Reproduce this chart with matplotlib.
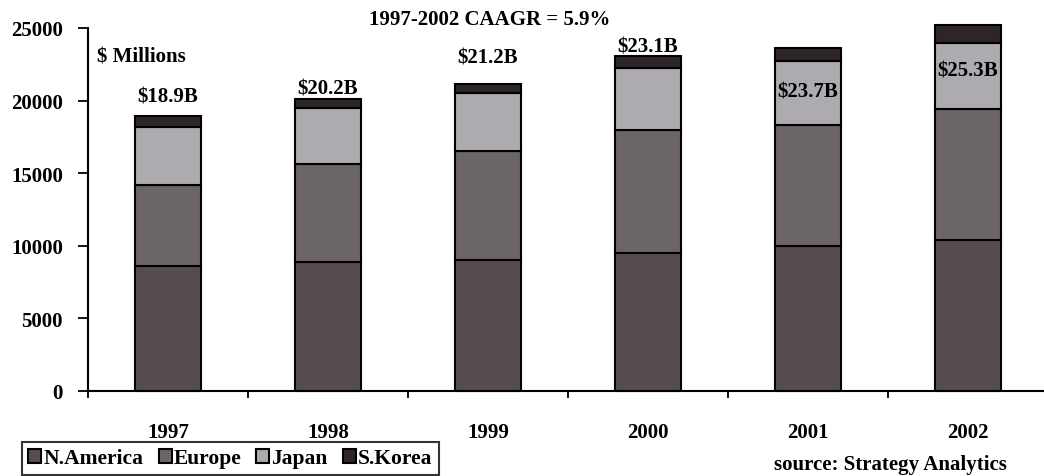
import matplotlib
matplotlib.use("Agg")
import matplotlib.pyplot as plt
import numpy as np

years = ["1997", "1998", "1999", "2000", "2001", "2002"]
series = ["N.America", "Europe", "Japan", "S.Korea"]
n_america = [8600, 8900, 9000, 9500, 10000, 10400]
europe = [5600, 6750, 7550, 8500, 8300, 9000]
japan = [4000, 3850, 3950, 4250, 4450, 4600]
s_korea = [750, 600, 650, 800, 900, 1200]
totals_text = ["$18.9B", "$20.2B", "$21.2B", "$23.1B", "$23.7B", "$25.3B"]
label_y = [20300, 20800, 23000, 23750, 20600, 22100]
colors = ["#574c4f", "#6b6567", "#adabaf", "#2d2527"]

plt.rcParams['font.family'] = ['Liberation Serif', 'DejaVu Serif']
plt.rcParams['font.weight'] = 'bold'

fig = plt.figure(figsize=(10.44, 4.77), dpi=100)
ax = fig.add_axes([88/1044, 1-392/477, 960/1044, (392-29)/477])

x = np.arange(len(years))
bottom = np.zeros(len(years))
handles = []
for vals, name, c in zip([n_america, europe, japan, s_korea], series, colors):
    b = ax.bar(x, vals, width=0.41, bottom=bottom, color=c, edgecolor="black",
               linewidth=1.5, label=name, clip_on=False)
    handles.append(b)
    bottom += np.array(vals)

for xi, t, ly in zip(x, totals_text, label_y):
    ax.text(xi, ly, t, ha="center", va="center", fontsize=15, fontweight="bold")

ax.set_xlim(-0.5, 5.5)
ax.set_ylim(0, 25000)
ax.set_yticks([0, 5000, 10000, 15000, 20000, 25000])
ax.set_yticklabels(["0", "5000", "10000", "15000", "20000", "25000"])
ax.set_xticks(x)
ax.set_xticklabels(years)
ax.set_xticks(np.arange(-0.5, 5.6, 1.0), minor=True)
ax.tick_params(axis="x", which="major", length=0, pad=22, labelsize=15)
ax.tick_params(axis="x", which="minor", length=5, width=1.3, direction="out")
ax.tick_params(axis="y", length=7, width=1.3, direction="out", labelsize=15, pad=11)
for lbl in ax.get_xticklabels() + ax.get_yticklabels():
    lbl.set_fontweight("bold")
ax.spines["top"].set_visible(False)
ax.spines["right"].set_visible(False)
ax.spines["left"].set_linewidth(1.5)
ax.spines["bottom"].set_linewidth(1.5)

fig.text(97/1044, 1-57/477, "$ Millions", fontsize=15, fontweight="bold", va="center", ha="left")
fig.text(490/1044, 1-20/477, "1997-2002 CAAGR = 5.9%", fontsize=15, fontweight="bold", va="center", ha="center")
fig.text(890/1044, 1-465/477, "source: Strategy Analytics", fontsize=15, fontweight="bold", va="center", ha="center")

leg = fig.legend(handles=handles, labels=series, loc="upper left",
                 bbox_to_anchor=(22/1044, 1-443/477), ncol=4, frameon=True,
                 fancybox=False, edgecolor="black", fontsize=15.5,
                 handlelength=0.6, handleheight=0.6, handletextpad=0.1,
                 columnspacing=0.7, borderpad=0.3, borderaxespad=0)
leg.get_frame().set_linewidth(1.5)
for t in leg.get_texts():
    t.set_fontweight("bold")

fig.savefig("out.png", dpi=100)
